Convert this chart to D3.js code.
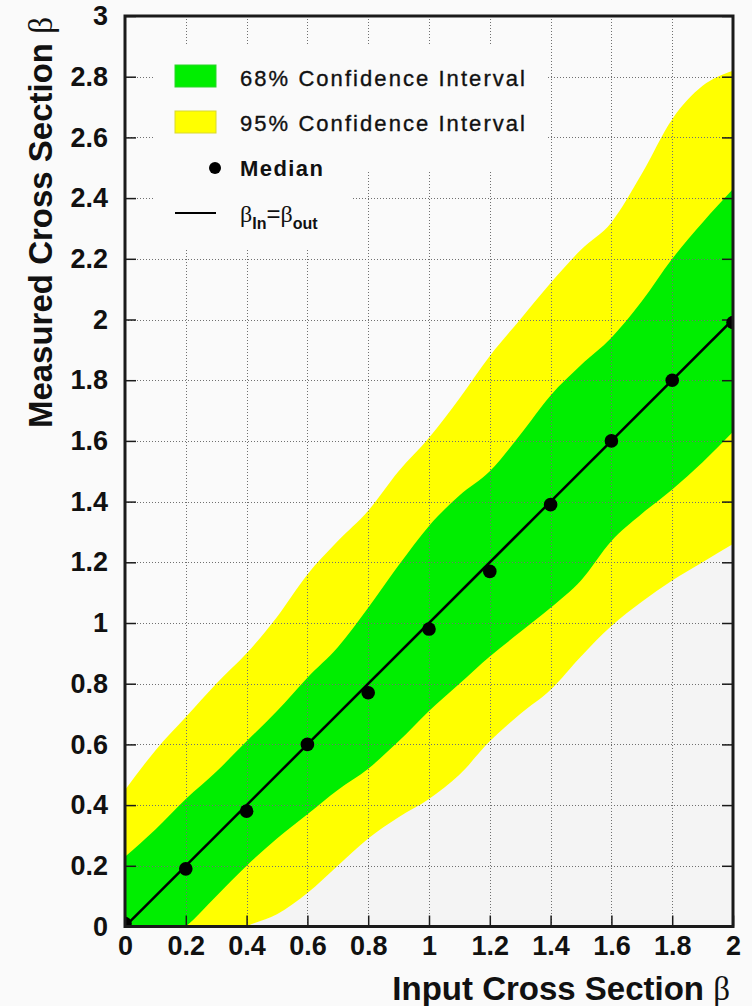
<!DOCTYPE html>
<html>
<head>
<meta charset="utf-8">
<script src="https://cdn.jsdelivr.net/npm/d3@7"></script>
<style>
  html, body { margin: 0; padding: 0; background: #fafafa; }
  svg { display: block; }
</style>
</head>
<body>
<svg id="chart" width="752" height="1006"></svg>
<script>
// Input cross section sampled for the confidence bands
const bandX = [0.0, 0.1, 0.2, 0.3, 0.4, 0.5, 0.6, 0.7, 0.8, 0.9, 1.0,
               1.1, 1.2, 1.3, 1.4, 1.5, 1.6, 1.7, 1.8, 1.9, 2.0];
// 95% interval limits
const upper95 = [0.45, 0.58, 0.69, 0.80, 0.90, 1.02, 1.16, 1.27, 1.37, 1.50, 1.61,
                 1.74, 1.88, 2.00, 2.12, 2.23, 2.32, 2.48, 2.66, 2.77, 2.82];
const lower95 = [-0.30, -0.22, -0.14, -0.06, 0.00, 0.04, 0.11, 0.20, 0.29, 0.36, 0.42,
                 0.50, 0.61, 0.70, 0.78, 0.89, 0.99, 1.07, 1.14, 1.20, 1.26];
// 68% interval limits
const upper68 = [0.23, 0.32, 0.42, 0.51, 0.61, 0.71, 0.82, 0.92, 1.05, 1.19, 1.32,
                 1.42, 1.50, 1.62, 1.75, 1.85, 1.94, 2.06, 2.20, 2.32, 2.43];
const lower68 = [-0.14, -0.07, 0.00, 0.10, 0.20, 0.29, 0.37, 0.45, 0.52, 0.61, 0.71,
                 0.80, 0.89, 0.97, 1.05, 1.14, 1.27, 1.36, 1.44, 1.53, 1.63];
// Median of the measured cross section
const medianX = [0.0, 0.2, 0.4, 0.6, 0.8, 1.0, 1.2, 1.4, 1.6, 1.8, 2.0];
const medianY = [0.01, 0.19, 0.38, 0.60, 0.77, 0.98, 1.17, 1.39, 1.60, 1.80, 1.99];
// Reference line beta_in = beta_out
const diagX = [0, 2];
const diagY = [0, 2];

// Axis ticks
const xTicks = [0, 0.2, 0.4, 0.6, 0.8, 1.0, 1.2, 1.4, 1.6, 1.8, 2.0];
const xTickLabels = ["0", "0.2", "0.4", "0.6", "0.8", "1", "1.2", "1.4", "1.6", "1.8", "2"];
const yTicks = [0, 0.2, 0.4, 0.6, 0.8, 1.0, 1.2, 1.4, 1.6, 1.8, 2.0, 2.2, 2.4, 2.6, 2.8, 3.0];
const yTickLabels = ["0", "0.2", "0.4", "0.6", "0.8", "1", "1.2", "1.4", "1.6", "1.8",
                     "2", "2.2", "2.4", "2.6", "2.8", "3"];

(function drawChart() {
  const FONT = "'Liberation Sans', Arial, Helvetica, sans-serif";
  const SERIF = "'Liberation Serif', 'DejaVu Serif', serif";
  const GREEN = "#00ee00";
  const YELLOW = "#ffff00";

  const svg = d3.select("#chart");
  const pLeft = 125, pRight = 733, pTop = 16, pBottom = 926.5;

  const x = d3.scaleLinear().domain([0, 2]).range([pLeft, pRight]);
  const y = d3.scaleLinear().domain([0, 3]).range([pBottom, pTop]);

  svg.append("rect").attr("width", 752).attr("height", 1006).attr("fill", "#fafafa");

  svg.append("defs").append("clipPath").attr("id", "plot-clip")
    .append("rect").attr("x", pLeft).attr("y", pTop)
    .attr("width", pRight - pLeft).attr("height", pBottom - pTop);

  const bands = svg.append("g").attr("clip-path", "url(#plot-clip)");

  const bandRows = bandX.map((v, i) => ({
    x: v, lo95: lower95[i], hi95: upper95[i], lo68: lower68[i], hi68: upper68[i]
  }));

  // Region below the 95% band
  bands.append("path")
    .datum(bandRows)
    .attr("fill", "#f4f4f4")
    .attr("d", d3.area().curve(d3.curveMonotoneX)
      .x(d => x(d.x)).y0(y(-1)).y1(d => y(d.lo95)));

  // 95% band
  bands.append("path")
    .datum(bandRows)
    .attr("fill", YELLOW)
    .attr("d", d3.area().curve(d3.curveMonotoneX)
      .x(d => x(d.x)).y0(d => y(d.lo95)).y1(d => y(d.hi95)));

  // 68% band
  bands.append("path")
    .datum(bandRows)
    .attr("fill", GREEN)
    .attr("d", d3.area().curve(d3.curveMonotoneX)
      .x(d => x(d.x)).y0(d => y(d.lo68)).y1(d => y(d.hi68)));

  // Dotted grid
  const grid = svg.append("g")
    .attr("stroke", "#707070").attr("stroke-width", 1)
    .attr("stroke-dasharray", "1,2").attr("fill", "none");
  grid.selectAll("line.v")
    .data(xTicks.filter(v => v > 0 && v < 2))
    .join("line").attr("class", "v")
    .attr("x1", d => Math.round(x(d)) + 0.5).attr("x2", d => Math.round(x(d)) + 0.5)
    .attr("y1", pTop).attr("y2", pBottom);
  grid.selectAll("line.h")
    .data(yTicks.filter(v => v > 0 && v < 3))
    .join("line").attr("class", "h")
    .attr("y1", d => Math.round(y(d)) + 0.5).attr("y2", d => Math.round(y(d)) + 0.5)
    .attr("x1", pLeft).attr("x2", pRight);

  // Axes
  const xAxis = d3.axisBottom(x)
    .tickValues(xTicks)
    .tickFormat((d, i) => xTickLabels[i])
    .tickSizeInner(-11).tickSizeOuter(0).tickPadding(9);
  const yAxis = d3.axisLeft(y)
    .tickValues(yTicks)
    .tickFormat((d, i) => yTickLabels[i])
    .tickSizeInner(-11).tickSizeOuter(0).tickPadding(17);
  const yAxisRight = d3.axisRight(y)
    .tickValues(yTicks).tickFormat("")
    .tickSizeInner(-11).tickSizeOuter(0);

  function styleAxis(g) {
    g.select(".domain").remove();
    g.selectAll(".tick line").attr("stroke", "#1a1a1a").attr("stroke-width", 1.5);
    g.selectAll(".tick text")
      .attr("fill", "#111")
      .attr("font-family", FONT)
      .attr("font-weight", "bold")
      .attr("font-size", 27);
  }

  svg.append("g").attr("transform", `translate(0,${pBottom})`).call(xAxis).call(styleAxis);
  svg.append("g").attr("transform", `translate(${pLeft},0)`).call(yAxis).call(styleAxis);
  svg.append("g").attr("transform", `translate(${pRight},0)`).call(yAxisRight).call(styleAxis);

  // Reference line and medians, above the grid
  const marks = svg.append("g").attr("clip-path", "url(#plot-clip)");
  marks.append("path")
    .datum(diagX.map((v, i) => [v, diagY[i]]))
    .attr("fill", "none").attr("stroke", "#000").attr("stroke-width", 2.5)
    .attr("d", d3.line().x(d => x(d[0])).y(d => y(d[1])));

  marks.selectAll("circle.median")
    .data(medianX.map((v, i) => [v, medianY[i]]))
    .join("circle").attr("class", "median")
    .attr("cx", d => x(d[0])).attr("cy", d => y(d[1]))
    .attr("r", 6.8).attr("fill", "#000");

  // Frame
  svg.append("rect")
    .attr("x", pLeft).attr("y", pTop)
    .attr("width", pRight - pLeft).attr("height", pBottom - pTop)
    .attr("fill", "none").attr("stroke", "#1a1a1a").attr("stroke-width", 3);

  // Axis titles
  svg.append("text")
    .attr("transform", "translate(730,1000)")
    .attr("text-anchor", "end")
    .attr("font-family", FONT).attr("font-weight", "bold").attr("font-size", 33)
    .attr("fill", "#111")
    .call(t => {
      t.append("tspan").text("Input Cross Section ");
      t.append("tspan").attr("font-family", SERIF).attr("font-weight", "normal").text("β");
    });

  svg.append("text")
    .attr("transform", "translate(52,17) rotate(-90)")
    .attr("text-anchor", "end")
    .attr("font-family", FONT).attr("font-weight", "bold").attr("font-size", 33)
    .attr("fill", "#111")
    .call(t => {
      t.append("tspan").text("Measured Cross Section ");
      t.append("tspan").attr("font-family", SERIF).attr("font-weight", "normal").text("β");
    });

  // Legend
  const legend = svg.append("g");
  legend.append("rect").attr("x", 154).attr("y", 45).attr("width", 393).attr("height", 125)
    .attr("fill", "#fafafa");
  legend.append("rect").attr("x", 154).attr("y", 169).attr("width", 199).attr("height", 81)
    .attr("fill", "#fafafa");

  legend.append("rect").attr("x", 175).attr("y", 65).attr("width", 41).attr("height", 22)
    .attr("fill", GREEN).attr("stroke", "#2bd42b").attr("stroke-width", 1);
  legend.append("rect").attr("x", 175).attr("y", 111).attr("width", 41).attr("height", 22)
    .attr("fill", YELLOW).attr("stroke", "#d8d830").attr("stroke-width", 1);
  legend.append("circle").attr("cx", 215).attr("cy", 168).attr("r", 6).attr("fill", "#000");
  legend.append("line").attr("x1", 175).attr("x2", 216).attr("y1", 213).attr("y2", 213)
    .attr("stroke", "#000").attr("stroke-width", 2);

  const legendText = [
    { label: "68% Confidence Interval", y: 86, w: 285, weight: "normal" },
    { label: "95% Confidence Interval", y: 131, w: 285, weight: "normal" },
    { label: "Median", y: 176, w: 83, weight: "bold" }
  ];
  legend.selectAll("text.entry")
    .data(legendText)
    .join("text").attr("class", "entry")
    .attr("x", 240).attr("y", d => d.y)
    .attr("textLength", d => d.w).attr("lengthAdjust", "spacing")
    .attr("font-family", FONT).attr("font-size", 22).attr("font-weight", d => d.weight)
    .attr("fill", "#111")
    .attr("stroke", d => d.weight === "normal" ? "#111" : "none")
    .attr("stroke-width", 0.35)
    .text(d => d.label);

  // beta_In = beta_out entry
  const eq = legend.append("text")
    .attr("x", 240).attr("y", 222)
    .attr("font-family", FONT).attr("font-size", 24).attr("fill", "#111");
  eq.append("tspan").attr("font-family", SERIF).text("β");
  eq.append("tspan").attr("font-weight", "bold").attr("font-size", 16).attr("dy", 7).text("In");
  eq.append("tspan").attr("dy", -7).text("=");
  eq.append("tspan").attr("font-family", SERIF).text("β");
  eq.append("tspan").attr("font-weight", "bold").attr("font-size", 16).attr("dy", 7).text("out");
})();
</script>
</body>
</html>
